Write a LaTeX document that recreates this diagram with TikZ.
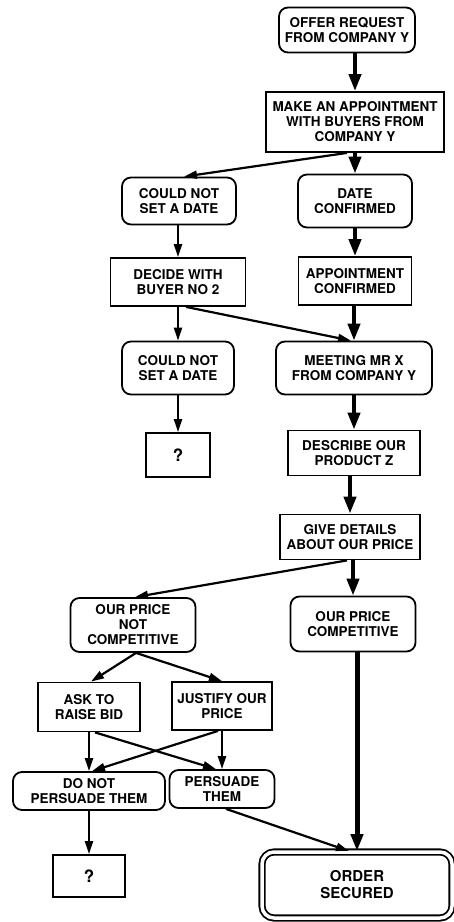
\documentclass[tikz,border=0pt]{standalone}
\usepackage{fontspec}
\setmainfont{TeX Gyre Heros}
\usetikzlibrary{arrows.meta}

\tikzset{
  box/.style={draw, line width=1.8pt, align=center, inner sep=2pt,
    font=\fontsize{13.5}{15}\selectfont\bfseries},
  rbox/.style={box, rounded corners=9pt},
  qbox/.style={box, font=\fontsize{17}{18}\selectfont\bfseries},
  endbox/.style={box, rounded corners=12pt, double, double distance=3.5pt,
    font=\fontsize{15}{17}\selectfont\bfseries},
  flow/.style={line width=2.2pt, -{Triangle[length=13pt,width=8pt]}},
  mainflow/.style={line width=4pt, -{Triangle[length=17pt,width=12pt]}},
}

\begin{document}
\begin{tikzpicture}
    [
      x=1pt, y=-1pt,
    ]
    \useasboundingbox (0,0) rectangle (454,922);

    % right column
    \node [rbox, minimum width=136pt, minimum height=45pt] (offer) at (347,30) {OFFER REQUEST\\FROM COMPANY Y};
    \node [box, minimum width=178pt, minimum height=60pt] (make) at (355,122) {MAKE AN APPOINTMENT\\WITH BUYERS FROM\\COMPANY Y};
    \node [rbox, minimum width=114pt, minimum height=53pt] (dateok) at (355,201) {DATE\\CONFIRMED};
    \node [box, minimum width=113pt, minimum height=48pt] (apptok) at (355,281) {APPOINTMENT\\CONFIRMED};
    \node [rbox, minimum width=156pt, minimum height=53pt] (meeting) at (354,368) {MEETING MR X\\FROM COMPANY Y};
    \node [box, minimum width=132pt, minimum height=45pt] (describe) at (354,453) {DESCRIBE OUR\\PRODUCT Z};
    \node [box, minimum width=140pt, minimum height=45pt] (give) at (350,537) {GIVE DETAILS\\ABOUT OUR PRICE};
    \node [rbox, minimum width=125pt, minimum height=55pt] (comp) at (353,624) {OUR PRICE\\COMPETITIVE};
    \node [endbox, minimum width=190pt, minimum height=66pt] (order) at (357,885) {ORDER\\SECURED};

    % left column
    \node [rbox, minimum width=114pt, minimum height=47pt] (nodate1) at (179,201) {COULD NOT\\SET A DATE};
    \node [box, minimum width=135pt, minimum height=48pt] (decide) at (178,282) {DECIDE WITH\\BUYER NO 2};
    \node [rbox, minimum width=112pt, minimum height=53pt] (nodate2) at (178,368) {COULD NOT\\SET A DATE};
    \node [qbox, minimum width=64pt, minimum height=44pt] (q1) at (178,455) {?};

    % price branch
    \node [rbox, minimum width=125pt, minimum height=54pt] (notcomp) at (133,625) {OUR PRICE\\NOT\\COMPETITIVE};
    \node [box, minimum width=102pt, minimum height=49pt] (ask) at (89,707) {ASK TO\\RAISE BID};
    \node [box, minimum width=100pt, minimum height=48pt] (justify) at (222,706) {JUSTIFY OUR\\PRICE};
    \node [rbox, minimum width=152pt, minimum height=38pt] (donot) at (89,791) {DO NOT\\PERSUADE THEM};
    \node [rbox, minimum width=105pt, minimum height=38pt] (persuade) at (222,789) {PERSUADE\\THEM};
    \node [qbox, minimum width=72pt, minimum height=42pt] (q2) at (89,876) {?};

    % main line
    \foreach \a/\b in {offer/make,make/dateok,dateok/apptok,apptok/meeting,meeting/describe,describe/give,give/comp} {
      \draw [mainflow] (\a.south -| \b.north) -- (\b.north);
    }
    \draw [mainflow, line width=5pt] (comp.south -| order.north) -- (order.north);

    % side lines
    \foreach \a/\b in {nodate1/decide,decide/nodate2,nodate2/q1,ask/donot,justify/persuade,donot/q2} {
      \draw [flow] (\a.south -| \b.north) -- (\b.north);
    }
    \draw [flow] ([xshift=-8pt]make.south) -- ([xshift=5pt]nodate1.north);
    \draw [flow] ([xshift=8pt]decide.south) -- ([xshift=-3pt]meeting.north);
    \draw [flow] ([xshift=-3pt]give.south) -- ([xshift=2pt]notcomp.north);
    \draw [flow] ([xshift=3pt]notcomp.south) -- ([xshift=2pt]ask.north);
    \draw [flow] ([xshift=3pt]notcomp.south) -- (justify.north);
    \draw [flow] ([xshift=6pt]ask.south) -- ([xshift=-6pt]persuade.north);
    \draw [flow] ([xshift=-4pt]justify.south) -- ([xshift=3pt]donot.north);
    \draw [flow] ([xshift=4pt]persuade.south) -- ([xshift=-8pt]order.north);
  \end{tikzpicture}
\end{document}
